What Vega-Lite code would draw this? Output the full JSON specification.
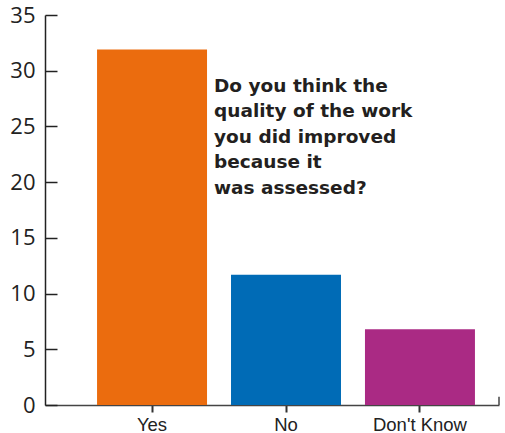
{
  "$schema": "https://vega.github.io/schema/vega-lite/v6.json",
  "autosize": "none",
  "width": 454,
  "height": 390,
  "padding": {"left": 45, "top": 15, "right": 6, "bottom": 28},
  "background": "white",
  "config": {"view": {"stroke": null}},
  "datasets": {
    "answers": [
      {"answer": "Yes", "count": 31.9, "color": "#EB6C0E"},
      {"answer": "No", "count": 11.7, "color": "#006BB6"},
      {"answer": "Don't Know", "count": 6.8, "color": "#AA2A84"}
    ],
    "note": [
      {"answer": "No", "y": 29.45, "label": ["Do you think the", "quality of the work", "you did improved", "because it", "was assessed?"]}
    ],
    "endtick": [
      {"y": 0, "y2": 0.75}
    ]
  },
  "layer": [
    {
      "data": {"name": "answers"},
      "mark": {"type": "bar"},
      "encoding": {
        "x": {
          "field": "answer",
          "type": "nominal",
          "sort": ["Yes", "No", "Don't Know"],
          "scale": {"paddingInner": 0.179, "paddingOuter": 0.284, "align": 0.684},
          "axis": {
            "title": null,
            "labelAngle": 0,
            "labelFont": "Liberation Sans",
            "labelFontSize": 18.5,
            "labelColor": "#222",
            "labelPadding": 3,
            "tickSize": 7,
            "tickColor": "#333",
            "tickWidth": 2,
            "domainColor": "#444",
            "domainWidth": 1.5,
            "grid": false
          }
        },
        "y": {
          "field": "count",
          "type": "quantitative",
          "scale": {"domain": [0, 35], "nice": false},
          "axis": {
            "title": null,
            "values": [0, 5, 10, 15, 20, 25, 30, 35],
            "labelFont": "Open Sans",
            "labelFontSize": 22,
            "labelColor": "#222",
            "labelPadding": 22,
            "tickSize": -12,
            "tickColor": "#222",
            "tickWidth": 1.5,
            "domainColor": "#222",
            "domainWidth": 1.5,
            "grid": false
          }
        },
        "color": {"field": "color", "type": "nominal", "scale": null}
      }
    },
    {
      "data": {"name": "note"},
      "mark": {
        "type": "text",
        "align": "left",
        "baseline": "top",
        "font": "DejaVu Sans",
        "fontWeight": "bold",
        "fontSize": 18.5,
        "lineHeight": 25.5,
        "color": "#231f20",
        "dx": -17
      },
      "encoding": {
        "x": {"field": "answer", "type": "nominal", "sort": ["Yes", "No", "Don't Know"], "bandPosition": 0},
        "y": {"field": "y", "type": "quantitative"},
        "text": {"field": "label"}
      }
    },
    {
      "data": {"name": "endtick"},
      "mark": {"type": "rule", "color": "#444", "strokeWidth": 1.5},
      "encoding": {
        "x": {"value": "width"},
        "y": {"field": "y", "type": "quantitative"},
        "y2": {"field": "y2"}
      }
    }
  ]
}
